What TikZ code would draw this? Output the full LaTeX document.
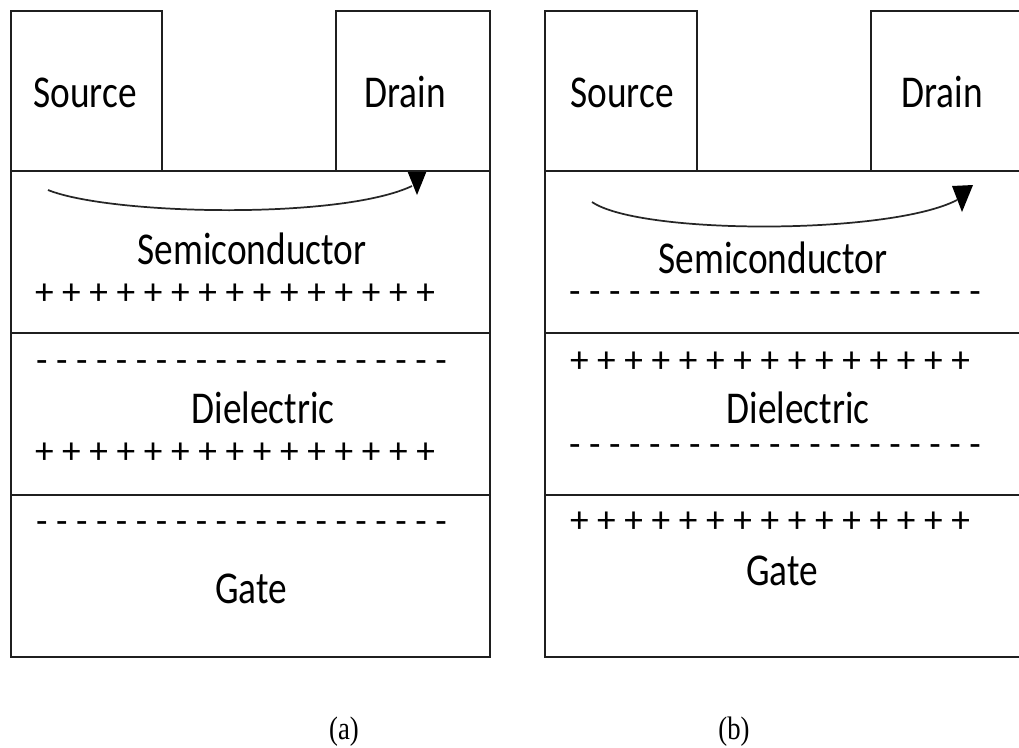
\documentclass[tikz,border=0pt]{standalone}
\usepackage{fontspec}
\setmainfont{Carlito}
\newfontfamily\capfont{Liberation Serif}
\newcommand{\tallt}[1]{\scalebox{1}[1.22]{#1}}
\begin{document}
\begin{tikzpicture}[x=0.75pt,y=-0.75pt,
  layer/.style={draw=black!88, line width=1.6pt, fill=white},
  lbl/.style={anchor=base, inner sep=0pt, font=\fontsize{28}{30}\selectfont},
  chg/.style={anchor=base, inner sep=0pt, font=\fontsize{28}{30}\selectfont},
  captxt/.style={anchor=base, inner sep=0pt, font=\capfont\fontsize{20}{22}\selectfont},
  flow/.style={draw=black!85, line width=1.3pt},
  head/.style={fill=black}]
\clip (0,0) rectangle (1019,747);
\fill[white] (0,0) rectangle (1019,747);

% ---------- panel (a) ----------
\draw[layer] (11,171) rectangle (490,333);
\draw[layer] (11,333) rectangle (490,495);
\draw[layer] (11,495) rectangle (490,657);
\draw[flow] (48,190) .. controls (110,215) and (340,220) .. (412,186);
\fill[head] (406.5,169) -- (427.5,169) -- (417,195) -- cycle;
\draw[layer] (11,11) rectangle (162,171);
\draw[layer] (336,11) rectangle (490,171);

\node[lbl] (srcA) at (85,107) {\tallt{Source}};
\node[lbl] (drnA) at (405,107) {\tallt{Drain}};
\node[lbl] (semA) at (252,264) {\tallt{Semiconductor}};
\node[chg] (pA1) at (235,304) {\makebox[300pt][s]{+ + + + + + + + + + + + + + +}};
\node[chg] (mA1) at (241.5,372) {\makebox[308pt][s]{- - - - - - - - - - - - - - - - - - - - -}};
\node[lbl] (dieA) at (263,423) {\tallt{Dielectric}};
\node[chg] (pA2) at (235,463) {\makebox[300pt][s]{+ + + + + + + + + + + + + + +}};
\node[chg] (mA2) at (241.5,533) {\makebox[308pt][s]{- - - - - - - - - - - - - - - - - - - - -}};
\node[lbl] (gatA) at (251,603) {\tallt{Gate}};
\node[captxt] (capA) at (344,739) {\tallt{(a)}};

% ---------- panel (b) ----------
\draw[layer] (545,171) rectangle (1024,333);
\draw[layer] (545,333) rectangle (1024,495);
\draw[layer] (545,495) rectangle (1024,657);
\draw[flow] (592,202) .. controls (640,235) and (890,235) .. (957,200);
\fill[head] (952,186) -- (973,185) -- (962,212) -- cycle;
\draw[layer] (545,11) rectangle (697,171);
\draw[layer] (871,11) rectangle (1024,171);

\node[lbl] (srcB) at (622,107) {\tallt{Source}};
\node[lbl] (drnB) at (942,107) {\tallt{Drain}};
\node[lbl] (semB) at (773,273) {\tallt{Semiconductor}};
\node[chg] (mB1) at (775,303) {\makebox[309pt][s]{- - - - - - - - - - - - - - - - - - - - -}};
\node[chg] (pB1) at (770,372) {\makebox[300pt][s]{+ + + + + + + + + + + + + + +}};
\node[lbl] (dieB) at (798,423) {\tallt{Dielectric}};
\node[chg] (mB2) at (775,456) {\makebox[309pt][s]{- - - - - - - - - - - - - - - - - - - - -}};
\node[chg] (pB2) at (770,532) {\makebox[300pt][s]{+ + + + + + + + + + + + + + +}};
\node[lbl] (gatB) at (782,585) {\tallt{Gate}};
\node[captxt] (capB) at (734,739) {\tallt{(b)}};
\end{tikzpicture}
\end{document}
